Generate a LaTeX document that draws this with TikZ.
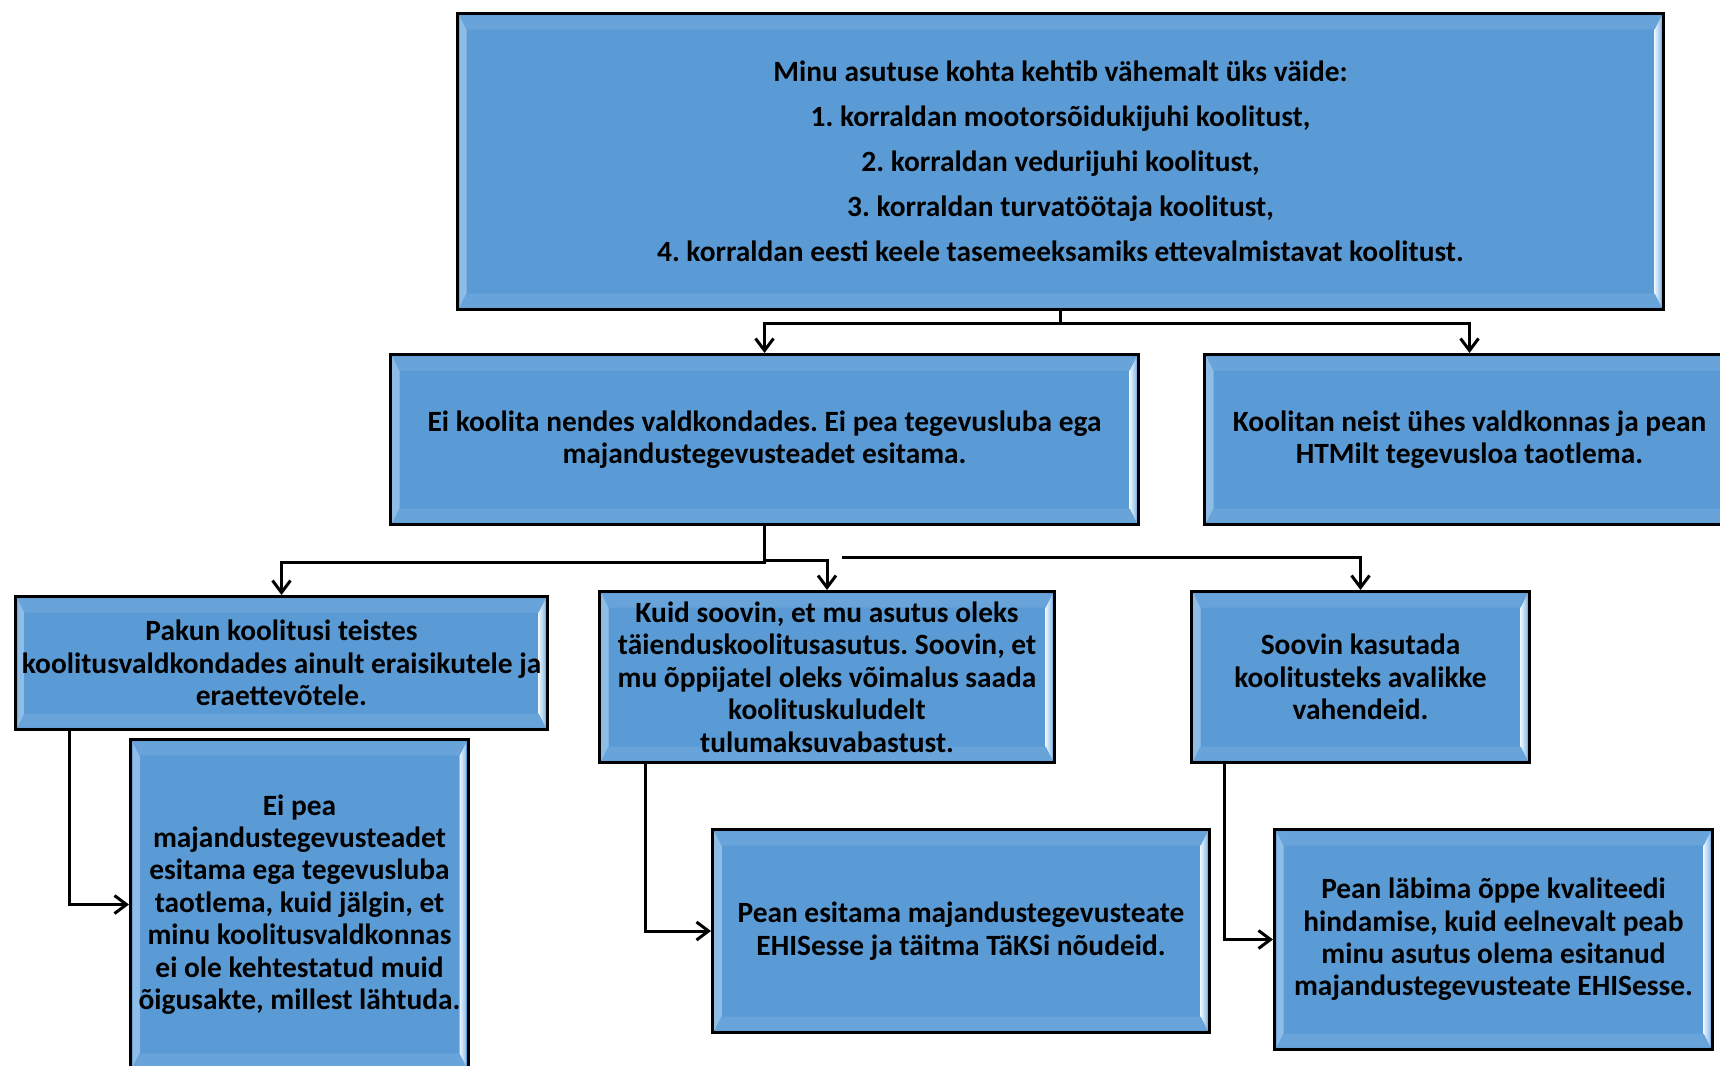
\documentclass[tikz,border=0pt]{standalone}
\usepackage{fontspec}
\setmainfont{Carlito}
\usetikzlibrary{arrows.meta}

\definecolor{boxblue}{HTML}{5B9BD5}
\definecolor{bevout}{HTML}{8DBCE6}
\definecolor{bevin}{HTML}{EAF5FF}
\definecolor{bevtop}{HTML}{68A3D9}

\newcommand{\boxfont}{\fontsize{14.7}{16.2}\selectfont\bfseries\frenchspacing}

\tikzset{
  bevel/.style={path picture={
    \fill[left color=bevout, right color=bevin]
      ([xshift=1pt,yshift=-1pt]path picture bounding box.north west) -- ([xshift=4.5pt,yshift=-8pt]path picture bounding box.north west)
      -- ([xshift=4.5pt,yshift=8pt]path picture bounding box.south west) -- ([xshift=1pt,yshift=1pt]path picture bounding box.south west) -- cycle;
    \fill[left color=bevin, right color=bevout]
      ([xshift=-1pt,yshift=-1pt]path picture bounding box.north east) -- ([xshift=-4.5pt,yshift=-8pt]path picture bounding box.north east)
      -- ([xshift=-4.5pt,yshift=8pt]path picture bounding box.south east) -- ([xshift=-1pt,yshift=1pt]path picture bounding box.south east) -- cycle;
    \fill[bevtop]
      ([xshift=1pt,yshift=-1pt]path picture bounding box.north west) -- ([xshift=-1pt,yshift=-1pt]path picture bounding box.north east)
      -- ([xshift=-4.5pt,yshift=-8pt]path picture bounding box.north east) -- ([xshift=4.5pt,yshift=-8pt]path picture bounding box.north west) -- cycle;
    \fill[bevtop]
      ([xshift=1pt,yshift=1pt]path picture bounding box.south west) -- ([xshift=-1pt,yshift=1pt]path picture bounding box.south east)
      -- ([xshift=-4.5pt,yshift=8pt]path picture bounding box.south east) -- ([xshift=4.5pt,yshift=8pt]path picture bounding box.south west) -- cycle;
  }},
  box/.style={draw=black, line width=1.5pt, fill=boxblue, bevel, inner sep=0pt,
    align=center, font=\boxfont, anchor=north west},
  conn/.style={line width=1.5pt, -{Straight Barb[length=6pt,width=9pt]}}
}

\begin{document}
\begin{tikzpicture}[x=0.5pt, y=-0.5pt]
    \useasboundingbox (0,0) rectangle (1720,1066);

    \node[box, minimum width=603pt, minimum height=148pt] (top) at (456,12)
      {Minu asutuse kohta kehtib vähemalt üks väide:\\[6.3pt]
       1. korraldan mootorsõidukijuhi koolitust,\\[6.3pt]
       2. korraldan vedurijuhi koolitust,\\[6.3pt]
       3. korraldan turvatöötaja koolitust,\\[6.3pt]
       4. korraldan eesti keele tasemeeksamiks ettevalmistavat koolitust.};

    \node[box, minimum width=374pt, minimum height=85pt] (eikool) at (389,353)
      {Ei koolita nendes valdkondades. Ei pea tegevusluba ega\\majandustegevusteadet esitama.};
    \node[box, minimum width=265pt, minimum height=85pt] (koolitan) at (1203,353)
      {Koolitan neist ühes valdkonnas ja pean\\HTMilt tegevusloa taotlema.};

    \node[box, minimum width=266pt, minimum height=66.5pt] (pakun) at (14,595)
      {Pakun koolitusi teistes\\koolitusvaldkondades ainult eraisikutele ja\\eraettevõtele.};
    \node[box, minimum width=227.5pt, minimum height=85.5pt] (kuid) at (598,590)
      {Kuid soovin, et mu asutus oleks\\täienduskoolitusasutus. Soovin, et\\mu õppijatel oleks võimalus saada\\koolituskuludelt\\tulumaksuvabastust.};
    \node[box, minimum width=169pt, minimum height=85.5pt] (soovin) at (1190,590)
      {Soovin kasutada\\koolitusteks avalikke\\vahendeid.};

    \node[box, minimum width=169pt, minimum height=165pt] (eipea) at (129,738)
      {Ei pea\\majandustegevusteadet\\esitama ega tegevusluba\\taotlema, kuid jälgin, et\\minu koolitusvaldkonnas\\ei ole kehtestatud muid\\õigusakte, millest lähtuda.};
    \node[box, minimum width=248.5pt, minimum height=101.5pt] (esitama) at (711,828)
      {Pean esitama majandustegevusteate\\EHISesse ja täitma TäKSi nõudeid.};
    \node[box, minimum width=219pt, minimum height=110pt] (labima) at (1273,828)
      {Pean läbima õppe kvaliteedi\\hindamise, kuid eelnevalt peab\\minu asutus olema esitanud\\majandustegevusteate EHISesse.};

    \coordinate (gap) at (842,557);

    \draw[conn] (top.south) -- ++(0,12) -| (eikool.north);
    \draw[conn] (top.south) -- ++(0,12) -| (koolitan.north);
    \draw[conn] (eikool.south) -- ++(0,36) -| (pakun.north);
    \draw[conn] (eikool.south) -- ++(0,34) -| (kuid.north);
    \draw[conn] (gap) -| (soovin.north);
    \draw[conn] ([xshift=27.5pt]pakun.south west) |- (eipea.west);
    \draw[conn] ([xshift=23.5pt]kuid.south west) |- (esitama.west);
    \draw[conn] ([xshift=17pt]soovin.south west) |- (labima.west);
\end{tikzpicture}
\end{document}
